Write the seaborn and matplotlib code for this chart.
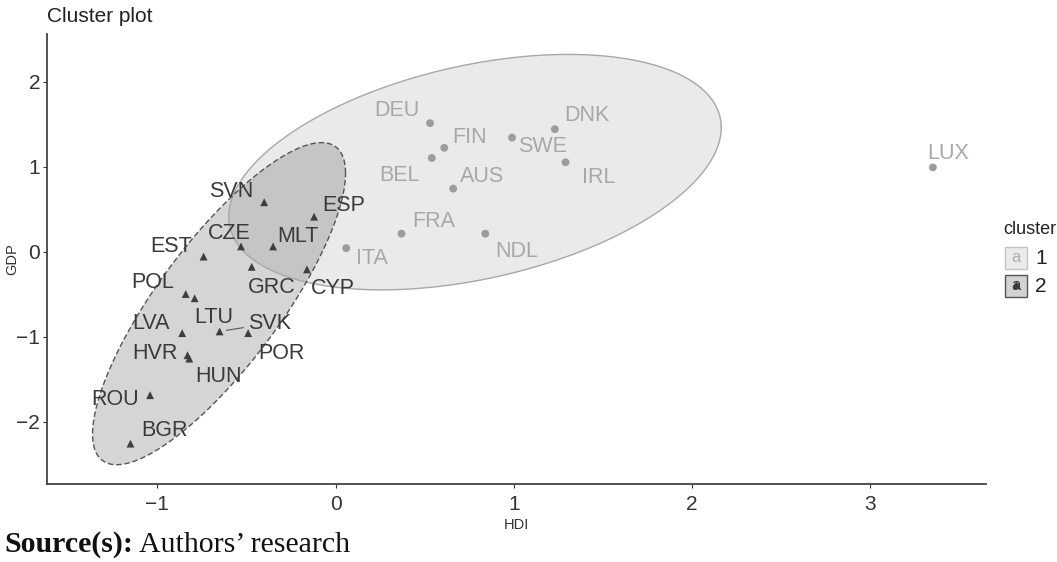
import numpy as np
import pandas as pd
import matplotlib
matplotlib.use("Agg")
import matplotlib.pyplot as plt
import matplotlib.lines as mlines
import matplotlib.patches as mpatches
import seaborn as sns

# Country coordinates in the cluster plot (standardised HDI, GDP)
countries_1 = ["DEU", "FIN", "BEL", "AUS", "SWE", "DNK", "IRL", "FRA", "NDL", "ITA", "LUX"]
hdi_1 = [0.53, 0.61, 0.54, 0.66, 0.99, 1.23, 1.29, 0.37, 0.84, 0.06, 3.35]
gdp_1 = [1.51, 1.22, 1.10, 0.74, 1.34, 1.44, 1.05, 0.21, 0.21, 0.04, 0.99]

countries_2 = ["SVN", "ESP", "CZE", "MLT", "EST", "GRC", "CYP", "POL", "LTU",
               "SVK", "LVA", "POR", "HVR", "HUN", "ROU", "BGR"]
hdi_2 = [-0.40, -0.12, -0.53, -0.35, -0.74, -0.47, -0.16, -0.84, -0.79,
         -0.65, -0.86, -0.49, -0.83, -0.82, -1.04, -1.15]
gdp_2 = [0.58, 0.41, 0.06, 0.06, -0.06, -0.18, -0.21, -0.50, -0.55,
         -0.94, -0.96, -0.96, -1.22, -1.26, -1.69, -2.26]

x_ticks = [-1, 0, 1, 2, 3]
y_ticks = [-2, -1, 0, 1, 2]

# label offsets in pixels (repel-style placement)
label_offsets = {
    "DEU": (-33, 13), "FIN": (25, 10), "BEL": (-32, -17), "AUS": (29, 12),
    "SWE": (30, -9), "DNK": (32, 14), "IRL": (33, -15), "FRA": (32, 12),
    "NDL": (31, -18), "ITA": (26, -10), "LUX": (15, 14),
    "SVN": (-33, 11), "ESP": (30, 11), "CZE": (-12, 13), "MLT": (25, 10),
    "EST": (-32, 10), "GRC": (20, -21), "CYP": (26, -19), "POL": (-33, 12),
    "LTU": (19, -19), "SVK": (50, 8), "LVA": (-31, 10), "POR": (33, -20),
    "HVR": (-33, 2), "HUN": (29, -18), "ROU": (-35, -4), "BGR": (34, 13),
}

df = pd.DataFrame({
    "country": countries_1 + countries_2,
    "HDI": hdi_1 + hdi_2,
    "GDP": gdp_1 + gdp_2,
    "cluster": ["1"] * len(countries_1) + ["2"] * len(countries_2),
})

point_col = {"1": "#9c9c9c", "2": "#3e3e3e"}
text_col = {"1": "#a8a8a8", "2": "#3a3a3a"}


def cov_trob(pts, nu=5, maxit=25, tol=0.01):
    # robust multivariate t estimate (like MASS::cov.trob)
    n, p = pts.shape
    loc = pts.mean(axis=0)
    w = np.ones(n)
    for _ in range(maxit):
        w0 = w
        X = pts - loc
        cov = (w[:, None] * X).T @ X / w.sum()
        Q = np.einsum("ij,jk,ik->i", X, np.linalg.inv(cov), X)
        w = (nu + p) / (nu + Q)
        loc = (w[:, None] * pts).sum(axis=0) / w.sum()
        if np.all(np.abs(w - w0) < tol):
            break
    cov = (w[:, None] * X).T @ X / n
    return loc, cov


def ellipse_xy(pts, fcrit, level_df=2):
    loc, cov = cov_trob(pts)
    radius = np.sqrt(level_df * fcrit)
    t = np.linspace(0, 2 * np.pi, 200)
    circle = np.column_stack([np.cos(t), np.sin(t)])
    R = np.linalg.cholesky(cov).T
    e = loc + radius * circle @ R
    return e[:, 0], e[:, 1]


# 95% F quantiles: qf(0.95, 2, n-1)
fcrit = {"1": 4.1028, "2": 3.6823}

sns.set_theme(style="white")
plt.rcParams["font.family"] = ["Liberation Sans", "DejaVu Sans"]

fig = plt.figure(figsize=(10.57, 5.62), dpi=100)
ax = fig.add_axes([47 / 1057, 1 - 483.5 / 562, (986 - 47) / 1057, (483.5 - 34) / 562])

# ellipses
for cl, fc, ec, ls, a in [("1", "#999999", "#a8a8a8", "-", 0.2),
                          ("2", "#444444", "#555555", (0, (4, 2)), 0.22)]:
    sub = df[df["cluster"] == cl]
    ex, ey = ellipse_xy(sub[["HDI", "GDP"]].to_numpy(), fcrit[cl])
    ax.fill(ex, ey, color=fc, alpha=a, lw=0, zorder=1)
    ax.plot(ex, ey, color=ec, lw=1.0, ls=ls, zorder=2)

sns.scatterplot(data=df, x="HDI", y="GDP", hue="cluster", style="cluster",
                markers={"1": "o", "2": "^"}, palette=point_col,
                s=32, linewidth=0, legend=False, ax=ax, zorder=3)

for _, r in df.iterrows():
    dx, dy = label_offsets[r["country"]]
    kw = {}
    if r["country"] == "SVK":
        kw["arrowprops"] = dict(arrowstyle="-", color="#555555", lw=0.8,
                                shrinkA=1, shrinkB=5)
    ax.annotate(r["country"], (r["HDI"], r["GDP"]), xytext=(dx, dy),
                textcoords="offset pixels", ha="center", va="center",
                fontsize=15.5, color=text_col[r["cluster"]], zorder=4, **kw)

ax.set_xlim(-1.618, 3.648)
ax.set_ylim(-2.729, 2.559)
ax.set_xticks(x_ticks)
ax.set_yticks(y_ticks)
ax.set_xticklabels(["\u22121", "0", "1", "2", "3"])
ax.set_yticklabels(["\u22122", "\u22121", "0", "1", "2"])
ax.tick_params(axis="both", labelsize=15, colors="#333333", length=3, width=0.8,
               pad=2, bottom=True, left=True)
ax.tick_params(axis="x", pad=5)
for side in ["top", "right"]:
    ax.spines[side].set_visible(False)
for side in ["left", "bottom"]:
    ax.spines[side].set_color("#444444")
    ax.spines[side].set_linewidth(1.3)
ax.set_xlabel("HDI", fontsize=10.5, color="#333333", labelpad=3)
ax.set_ylabel("GDP", fontsize=10.5, color="#333333")
ax.yaxis.set_label_coords(-28 / 939, 0.5)
ax.set_facecolor("white")

fig.text(47 / 1057, 1 - 16 / 562, "Cluster plot", fontsize=15, color="#222222",
         ha="left", va="center")

# legend drawn by hand
fig.text(1003 / 1057, 1 - 229 / 562, "cluster", fontsize=13, color="#222222",
         ha="left", va="center")
keys = [("1", "#ebebeb", "#c4c4c4", "#b0b0b0", 258),
        ("2", "#d2d2d2", "#555555", "#3a3a3a", 286)]
for lab, fc, ec, tc, yc in keys:
    fig.add_artist(mpatches.Rectangle((1005 / 1057, 1 - (yc + 11) / 562), 22 / 1057, 22 / 562,
                                      transform=fig.transFigure, facecolor=fc,
                                      edgecolor=ec, lw=1.0))
    fig.text(1016 / 1057, 1 - yc / 562, "a", fontsize=12, color=tc,
             ha="center", va="center")
    if lab == "2":
        fig.add_artist(mlines.Line2D([1016 / 1057], [1 - (yc - 1) / 562], marker="^",
                                     markersize=5, color=tc, lw=0,
                                     transform=fig.transFigure))
    fig.text(1035 / 1057, 1 - yc / 562, lab, fontsize=15, color="#222222",
             ha="left", va="center")

# source note
t1 = fig.text(4 / 1057, 1 - 552 / 562, "Source(s):", fontsize=21.5, fontweight="bold",
              family="Liberation Serif", color="#111111", ha="left", va="baseline")
fig.canvas.draw()
bb = t1.get_window_extent()
fig.text((bb.x1 + 6) / 1057, 1 - 552 / 562, "Authors\u2019 research", fontsize=21.5,
         family="Liberation Serif", color="#111111", ha="left", va="baseline")

fig.savefig("out.png", dpi=100)
